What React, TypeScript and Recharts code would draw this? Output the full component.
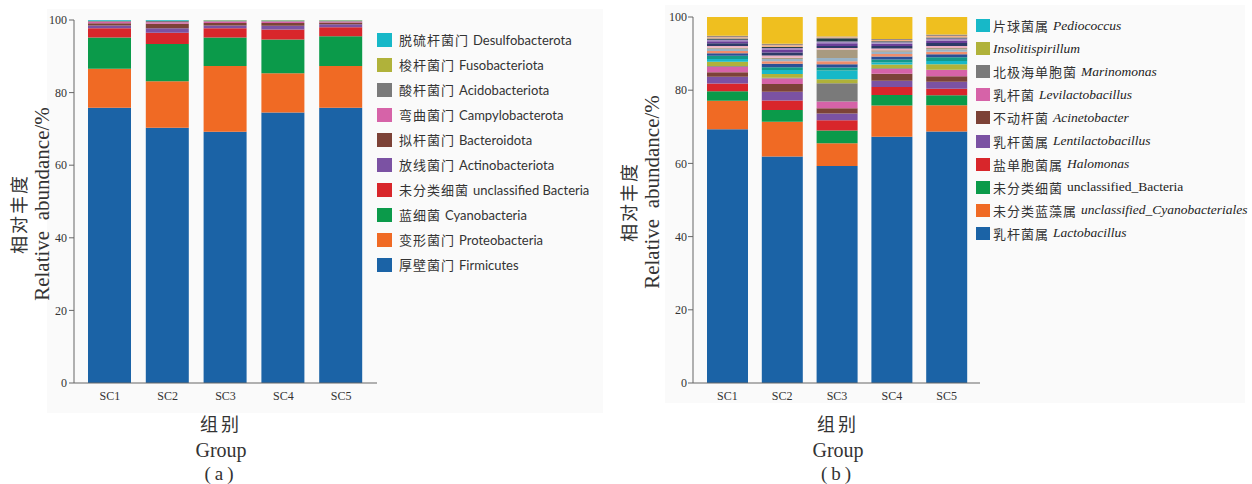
import React from "react";
import { BarChart, Bar, XAxis, YAxis } from "recharts";

// samples
const groups = ["SC1", "SC2", "SC3", "SC4", "SC5"];
const yTicks = [0, 20, 40, 60, 80, 100];

// (a) phylum level, %
const firmicutes = [75.8, 70.3, 69.2, 74.5, 75.8];
const proteobacteria = [10.8, 12.8, 18.1, 10.8, 11.5];
const cyanobacteria = [8.6, 10.3, 7.9, 9.3, 8.2];
const unclassifiedPhylum = [2.5, 3.1, 2.5, 2.8, 2.5];
const actinobacteriota = [0.8, 1.2, 0.8, 1.0, 0.8];
const bacteroidota = [0.6, 1.3, 0.7, 0.8, 0.5];
const campylobacterota = [0.4, 0.4, 0.4, 0.4, 0.3];
const acidobacteriota = [0.2, 0.3, 0.2, 0.2, 0.2];
const fusobacteriota = [0.1, 0.1, 0.1, 0.1, 0.1];
const desulfobacterota = [0.2, 0.2, 0.1, 0.1, 0.1];

// (b) genus level, %
const lactobacillus = [69.3, 61.9, 59.3, 67.3, 68.7];
const uCyanobacteriales = [7.8, 9.5, 6.2, 8.5, 7.2];
const uBacteria = [2.6, 3.2, 3.5, 2.9, 2.7];
const halomonas = [2.1, 2.6, 2.8, 2.2, 1.8];
const lentilactobacillus = [1.9, 2.4, 1.8, 1.7, 1.9];
const acinetobacter = [1.2, 2.1, 1.5, 1.9, 1.5];
const levilactobacillus = [1.5, 1.5, 1.8, 1.3, 1.7];
const marinomonas = [0.2, 0.2, 5.0, 0.2, 0.1];
const insolitispirillum = [1.2, 1.0, 1.1, 1.0, 1.5];
const pediococcus = [0.7, 1.1, 2.4, 0.6, 0.9];
// minor genera (not in legend), bottom to top
const minor1 = [0.9, 0.8, 0.8, 0.8, 1.0];
const minor2 = [0.7, 0.9, 0.9, 0.8, 0.8];
const minor3 = [0.6, 0.7, 0.8, 0.7, 0.7];
const minor4 = [0.6, 0.6, 0.9, 0.6, 0.6];
const minor5 = [0.3, 0.4, 2.3, 0.4, 0.4];
const minor6 = [0.5, 0.6, 0.4, 0.5, 0.6];
const minor7 = [0.7, 0.8, 0.6, 0.7, 0.8];
const minor8 = [0.6, 0.7, 0.7, 0.6, 0.7];
const minor9 = [0.4, 0.5, 0.5, 0.4, 0.5];
const minor10 = [0.3, 0.3, 0.9, 0.3, 0.3];
const minor11 = [0.4, 0.5, 0.3, 0.3, 0.4];
const minor12 = [0.4, 0.4, 0.2, 0.3, 0.4];
const otherGenera = [5.1, 7.3, 5.3, 6.0, 4.8];

type Series = { key: string; cn: string; en: string; italic?: boolean; color: string; values: number[]; legend?: boolean };

const phylumSeries: Series[] = [
  { key: "firmicutes", cn: "厚壁菌门", en: "Firmicutes", color: "#1b63a6", values: firmicutes },
  { key: "proteobacteria", cn: "变形菌门", en: "Proteobacteria", color: "#f06a24", values: proteobacteria },
  { key: "cyanobacteria", cn: "蓝细菌", en: "Cyanobacteria", color: "#0b9a4a", values: cyanobacteria },
  { key: "unclassified", cn: "未分类细菌", en: "unclassified Bacteria", color: "#d8262b", values: unclassifiedPhylum },
  { key: "actinobacteriota", cn: "放线菌门", en: "Actinobacteriota", color: "#7b52a3", values: actinobacteriota },
  { key: "bacteroidota", cn: "拟杆菌门", en: "Bacteroidota", color: "#7c4237", values: bacteroidota },
  { key: "campylobacterota", cn: "弯曲菌门", en: "Campylobacterota", color: "#d663a8", values: campylobacterota },
  { key: "acidobacteriota", cn: "酸杆菌门", en: "Acidobacteriota", color: "#7a7a7a", values: acidobacteriota },
  { key: "fusobacteriota", cn: "梭杆菌门", en: "Fusobacteriota", color: "#b0b23a", values: fusobacteriota },
  { key: "desulfobacterota", cn: "脱硫杆菌门", en: "Desulfobacterota", color: "#17b8c8", values: desulfobacterota },
];

const genusSeries: Series[] = [
  { key: "lactobacillus", cn: "乳杆菌属", en: "Lactobacillus", italic: true, color: "#1b63a6", values: lactobacillus, legend: true },
  { key: "uCyanobacteriales", cn: "未分类蓝藻属", en: "unclassified_Cyanobacteriales", italic: true, color: "#f06a24", values: uCyanobacteriales, legend: true },
  { key: "uBacteria", cn: "未分类细菌", en: "unclassified_Bacteria", color: "#0b9a4a", values: uBacteria, legend: true },
  { key: "halomonas", cn: "盐单胞菌属", en: "Halomonas", italic: true, color: "#d8262b", values: halomonas, legend: true },
  { key: "lentilactobacillus", cn: "乳杆菌属", en: "Lentilactobacillus", italic: true, color: "#7b52a3", values: lentilactobacillus, legend: true },
  { key: "acinetobacter", cn: "不动杆菌", en: "Acinetobacter", italic: true, color: "#7c4237", values: acinetobacter, legend: true },
  { key: "levilactobacillus", cn: "乳杆菌", en: "Levilactobacillus", italic: true, color: "#d663a8", values: levilactobacillus, legend: true },
  { key: "marinomonas", cn: "北极海单胞菌", en: "Marinomonas", italic: true, color: "#7a7a7a", values: marinomonas, legend: true },
  { key: "insolitispirillum", cn: "", en: "Insolitispirillum", italic: true, color: "#b0b23a", values: insolitispirillum, legend: true },
  { key: "pediococcus", cn: "片球菌属", en: "Pediococcus", italic: true, color: "#17b8c8", values: pediococcus, legend: true },
  { key: "minor1", cn: "", en: "", color: "#12998a", values: minor1 },
  { key: "minor2", cn: "", en: "", color: "#2c4f95", values: minor2 },
  { key: "minor3", cn: "", en: "", color: "#ef8e6c", values: minor3 },
  { key: "minor4", cn: "", en: "", color: "#9ab3c6", values: minor4 },
  { key: "minor5", cn: "", en: "", color: "#a89a80", values: minor5 },
  { key: "minor6", cn: "", en: "", color: "#eeb0c0", values: minor6 },
  { key: "minor7", cn: "", en: "", color: "#2d3a68", values: minor7 },
  { key: "minor8", cn: "", en: "", color: "#6b3f98", values: minor8 },
  { key: "minor9", cn: "", en: "", color: "#a58cc4", values: minor9 },
  { key: "minor10", cn: "", en: "", color: "#26404a", values: minor10 },
  { key: "minor11", cn: "", en: "", color: "#f3b185", values: minor11 },
  { key: "minor12", cn: "", en: "", color: "#9a8a86", values: minor12 },
  { key: "others", cn: "", en: "", color: "#efbf1f", values: otherGenera },
];

const toRows = (series: Series[]) =>
  groups.map((g, i) => {
    const row: Record<string, string | number> = { group: g };
    series.forEach((s) => (row[s.key] = s.values[i]));
    return row;
  });

const SERIF = '"Liberation Serif", "Times New Roman", serif';
const CJK = '"Noto Sans CJK SC", sans-serif';
const tickStyle = { fontSize: 12, fill: "#333", fontFamily: SERIF };

const abs = (left: number, top: number, extra: React.CSSProperties = {}): React.CSSProperties => ({
  position: "absolute",
  left,
  top,
  ...extra,
});

function YTitle({ cx, cy, size }: { cx: number; cy: number; size: number }) {
  // rotated two line y-axis title
  return (
    <>
      <div style={abs(cx - 18, cy - 150, { width: 0, height: 300 })}>
        <div style={{ position: "absolute", left: 0, top: 155, transform: "translate(-50%, -50%) rotate(-90deg)", whiteSpace: "nowrap", fontFamily: CJK, fontSize: 18, letterSpacing: 2, color: "#333" }}>
          相对丰度
        </div>
      </div>
      <div style={abs(cx + 6, cy - 150, { width: 0, height: 300 })}>
        <div style={{ position: "absolute", left: 0, top: 145, transform: "translate(-50%, -50%) rotate(-90deg)", whiteSpace: "nowrap", fontFamily: SERIF, fontSize: size, color: "#333" }}>
          Relative&nbsp; abundance/%
        </div>
      </div>
    </>
  );
}

function XTitle({ cx, tag }: { cx: number; tag: string }) {
  const line = (top: number, text: string, font: string, size: number, spacing = 0) => (
    <div style={abs(cx - 60, top, { width: 120, textAlign: "center", fontFamily: font, fontSize: size, letterSpacing: spacing, color: "#333", lineHeight: 1 })}>
      {text}
    </div>
  );
  return (
    <>
      {line(414, "组别", CJK, 18, 3)}
      {line(440, "Group", SERIF, 20)}
      {line(464, tag, SERIF, 19, 4)}
    </>
  );
}

export default function App() {
  const phylumRows = toRows(phylumSeries);
  const genusRows = toRows(genusSeries);
  const phylumLegend = [...phylumSeries].reverse();
  const genusLegend = genusSeries.filter((s) => s.legend).reverse();

  return (
    <div style={{ position: "absolute", left: 0, top: 0, width: 1252, height: 484, background: "#fff", overflow: "hidden" }}>
      {/* panel backgrounds */}
      <div style={abs(47, 9, { width: 556, height: 404, background: "#fafafa" })} />
      <div style={abs(665, 5, { width: 580, height: 398, background: "#fafafa" })} />

      {/* (a) phylum */}
      <div style={abs(0, 0)}>
        <BarChart width={382} height={410} data={phylumRows} margin={{ top: 20, right: 5, left: 44, bottom: 0 }} barSize={43}>
          <XAxis dataKey="group" tick={tickStyle} tickLine={false} tickSize={5} tickMargin={3} axisLine={{ stroke: "#666" }} padding={{ left: 7, right: 7 }} height={27} />
          <YAxis domain={[0, 100]} ticks={yTicks} tick={tickStyle} tickSize={5} tickMargin={2} axisLine={{ stroke: "#666" }} tickLine={{ stroke: "#666" }} width={30} />
          {phylumSeries.map((s) => (
            <Bar key={s.key} dataKey={s.key} stackId="a" fill={s.color} isAnimationActive={false} />
          ))}
        </BarChart>
      </div>
      <YTitle cx={36} cy={209} size={21} />
      <XTitle cx={221} tag="(a)" />
      <div style={abs(377, 27)}>
        {phylumLegend.map((s) => (
          <div key={s.key} style={{ display: "flex", alignItems: "center", height: 25, whiteSpace: "nowrap" }}>
            <span style={{ width: 15, height: 14, background: s.color, marginRight: 7 }} />
            <span style={{ fontFamily: CJK, fontSize: 13, letterSpacing: 1, color: "#333" }}>{s.cn}</span>
            <span style={{ fontFamily: '"Lato", sans-serif', fontSize: 13, color: "#333", marginLeft: 4 }}>{s.en}</span>
          </div>
        ))}
      </div>

      {/* (b) genus */}
      <div style={abs(640, 0)}>
        <BarChart width={345} height={410} data={genusRows} margin={{ top: 17, right: 5, left: 23, bottom: 0 }} barSize={41}>
          <XAxis dataKey="group" tick={tickStyle} tickLine={false} tickSize={5} tickMargin={3} axisLine={{ stroke: "#666" }} padding={{ left: 7, right: 6 }} height={27} />
          <YAxis domain={[0, 100]} ticks={yTicks} tick={tickStyle} tickSize={5} tickMargin={1} axisLine={{ stroke: "#666" }} tickLine={{ stroke: "#666" }} width={30} />
          {genusSeries.map((s) => (
            <Bar key={s.key} dataKey={s.key} stackId="b" fill={s.color} isAnimationActive={false} />
          ))}
        </BarChart>
      </div>
      <YTitle cx={646} cy={197} size={21} />
      <XTitle cx={838} tag="(b)" />
      <div style={abs(976, 14)}>
        {genusLegend.map((s) => (
          <div key={s.key} style={{ display: "flex", alignItems: "center", height: 23.1, whiteSpace: "nowrap" }}>
            <span style={{ width: 14, height: 13, background: s.color, marginRight: 3 }} />
            {s.cn && <span style={{ fontFamily: CJK, fontSize: 13, letterSpacing: 1, color: "#333", marginRight: 4 }}>{s.cn}</span>}
            <span style={{ fontFamily: SERIF, fontStyle: s.italic ? "italic" : "normal", fontSize: 13.5, color: "#222" }}>{s.en}</span>
          </div>
        ))}
      </div>
    </div>
  );
}
